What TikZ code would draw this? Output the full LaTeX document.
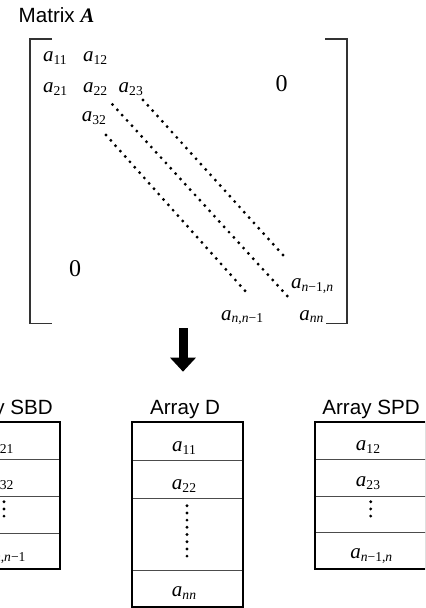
\documentclass[tikz,border=0pt]{standalone}
\usepackage{fontspec}
\setmainfont{Liberation Sans}
\newfontfamily\tms{Liberation Serif}
\usetikzlibrary{arrows.meta}
\newcommand{\ael}[1]{{\tms\textit{a}\raisebox{-1.5pt}{\fontsize{6.8}{7}\selectfont#1}}}
\newcommand{\nsub}{\textit{n}}

\begin{document}
\begin{tikzpicture}[x=0.5pt,y=-0.5pt,
  ttl/.style={font=\fontsize{10.3}{12}\selectfont, anchor=base, inner sep=0pt},
  ent/.style={font=\tms\fontsize{10.5}{12}\selectfont, anchor=base west, inner sep=0pt},
  elem/.style={font=\tms\fontsize{10.5}{12}\selectfont, anchor=base, inner sep=0pt},
  zro/.style={font=\tms\fontsize{12}{14}\selectfont, inner sep=0pt},
  brk/.style={line width=0.6pt, color=black!80},
  dotline/.style={line width=1.6pt, line cap=round, dash pattern=on 0pt off 3.6pt},
  arrbox/.style={line width=1pt},
  rowline/.style={line width=0.5pt, color=black!70},
  bigarr/.style={line width=4.5pt, -{Triangle[length=7pt,width=12.5pt]}},
]
  \useasboundingbox (0,0) rectangle (425,608);
  \clip (0,0) rectangle (425,608);
  % Matrix A
  \node[ttl,anchor=base west] (mtitle) at (18.3,22.7) {Matrix {\tms\bfseries\itshape A}};
  \draw[brk] (52,39)--(30,39)--(30,323.5)--(52,323.5);
  \draw[brk] (325,39)--(347,39)--(347,323.5)--(326,323.5);
  \node[ent] (a11) at (42.7,62) {\ael{11}}; \node[ent] (a12) at (82.7,62) {\ael{12}};
  \node[ent] (a21) at (42.7,92.7) {\ael{21}}; \node[ent] (a22) at (82.7,92.7) {\ael{22}};
  \node[ent] (a23) at (118.3,92.7) {\ael{23}};
  \node[ent] (a32) at (81.5,121.5) {\ael{32}};
  \node[ent] (asup) at (290.7,288.3) {\ael{\nsub−1,\nsub}};
  \node[ent] (asub) at (220.7,320) {\ael{\nsub,\nsub−1}};
  \node[ent] (ann) at (299,320) {\ael{\nsub\nsub}};
  \node[zro] (zup) at (281.5,83.3) {0}; \node[zro] (zlo) at (75,269) {0};
  % diagonals
  \coordinate (d1s) at (143,100); \coordinate (d1e) at (285,257.3);
  \coordinate (d2s) at (112.5,104.5); \coordinate (d2e) at (287.3,296);
  \coordinate (d3s) at (106,135); \coordinate (d3e) at (246.7,292.7);
  \draw[dotline] (d1s)--(d1e); \draw[dotline] (d2s)--(d2e); \draw[dotline] (d3s)--(d3e);
  % arrow down
  \coordinate (atop) at (183,328.3); \coordinate (atip) at (183,371.7);
  \draw[bigarr] (atop)--(atip);
  % Array SBD
  \node[ttl] (tsbd) at (4,414) {Array SBD};
  \draw[rowline] (-51.5,459)--(59.5,459) (-51.5,496.7)--(59.5,496.7) (-51.5,533)--(59.5,533);
  \draw[arrbox] (-51.5,422) rectangle (59.5,569.3);
  \node[elem] (b1) at (1.5,450) {\ael{21}}; \node[elem] (b2) at (1.5,486) {\ael{32}};
  \coordinate (bvs) at (4,501.7); \coordinate (bve) at (4,522);
  \draw[dotline] (bvs)--(bve);
  \node[elem] (b4) at (4.5,558.5) {\ael{\nsub,\nsub−1}};
  % Array D
  \node[ttl] (td) at (185,414) {Array D};
  \draw[rowline] (131.5,460.5)--(242.5,460.5) (131.5,498)--(242.5,498) (131.5,570)--(242.5,570);
  \draw[arrbox] (131.5,422.3) rectangle (242.5,606.7);
  \node[elem] (c1) at (184,451) {\ael{11}}; \node[elem] (c2) at (184,489) {\ael{22}};
  \coordinate (cvs) at (187,505.7); \coordinate (cve) at (187,562);
  \draw[dotline] (cvs)--(cve);
  \node[elem] (c4) at (184,596) {\ael{\nsub\nsub}};
  % Array SPD
  \node[ttl] (tspd) at (371,414) {Array SPD};
  \draw[rowline] (315,459)--(426,459) (315,496.7)--(426,496.7) (315,532.7)--(426,532.7);
  \draw[arrbox] (315,422) rectangle (426,569.3);
  \node[elem] (s1) at (368,450) {\ael{12}}; \node[elem] (s2) at (368,486) {\ael{23}};
  \coordinate (svs) at (370.7,501.7); \coordinate (sve) at (370.7,522);
  \draw[dotline] (svs)--(sve);
  \node[elem] (s4) at (371.3,558.5) {\ael{\nsub−1,\nsub}};
\end{tikzpicture}
\end{document}
